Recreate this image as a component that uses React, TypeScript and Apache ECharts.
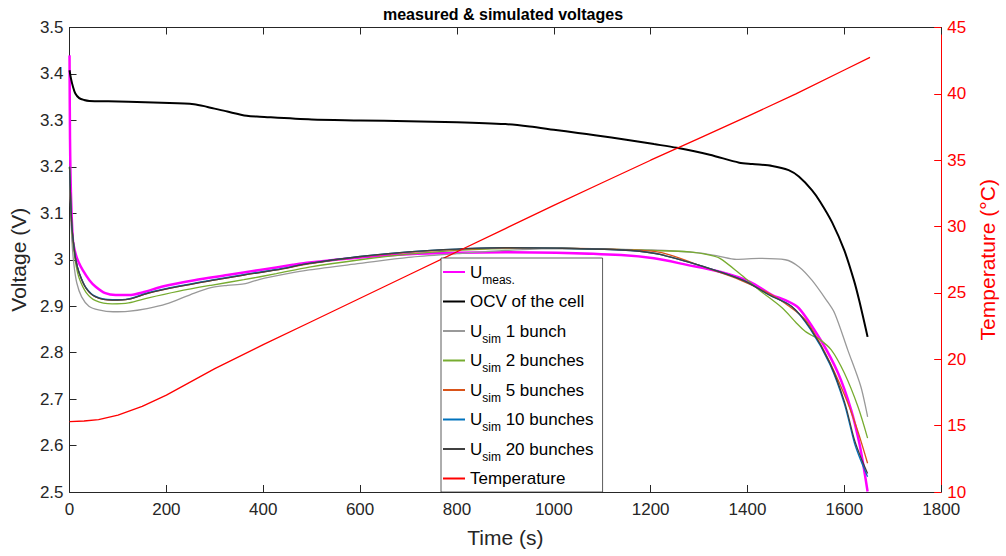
import React, { useEffect, useRef } from 'react';
import * as echarts from 'echarts';

const FONT = '"Liberation Sans", Arial, Helvetica, sans-serif';

// Axis ticks
const timeTicks = { min: 0, max: 1800, interval: 200 };
const voltTicks = { min: 2.5, max: 3.5, interval: 0.1 };
const tempTicks = { min: 10, max: 45, interval: 5 };

// U_meas.
const measT = [0, 1, 3, 7, 12, 17, 27, 41, 54, 74, 95, 122, 156, 190, 258, 326, 393, 461, 495, 600, 700, 800, 900, 1005, 1139, 1207, 1275, 1343, 1404, 1451, 1478, 1506, 1553, 1587, 1614, 1631, 1641, 1648];
const measV = [3.44, 3.26, 3.14, 3.042, 3.015, 2.999, 2.978, 2.956, 2.942, 2.928, 2.924, 2.924, 2.931, 2.942, 2.956, 2.967, 2.978, 2.989, 2.994, 3.005, 3.012, 3.015, 3.016, 3.015, 3.010, 3.003, 2.989, 2.974, 2.953, 2.924, 2.913, 2.896, 2.824, 2.756, 2.677, 2.605, 2.547, 2.501];

// OCV of the cell
const ocvT = [0, 3, 7, 12, 20, 30, 41, 80, 122, 190, 257, 285, 326, 366, 393, 500, 600, 700, 800, 900, 950, 1000, 1050, 1085, 1153, 1207, 1254, 1322, 1383, 1410, 1451, 1485, 1506, 1533, 1550, 1575, 1600, 1620, 1631, 1648];
const ocvV = [3.408, 3.39, 3.373, 3.358, 3.348, 3.344, 3.342, 3.341, 3.340, 3.338, 3.335, 3.329, 3.319, 3.310, 3.308, 3.302, 3.300, 3.298, 3.296, 3.292, 3.287, 3.280, 3.273, 3.268, 3.258, 3.249, 3.241, 3.226, 3.209, 3.206, 3.202, 3.193, 3.179, 3.150, 3.125, 3.08, 3.02, 2.955, 2.911, 2.834];

// U_sim 1 bunch
const sim1T = [0, 2, 5, 9, 15, 25, 40, 60, 90, 120, 160, 200, 250, 292, 326, 360, 393, 450, 495, 600, 700, 800, 900, 1000, 1100, 1200, 1300, 1340, 1377, 1424, 1478, 1506, 1533, 1563, 1580, 1607, 1634, 1648];
const sim1V = [3.2, 3.12, 3.04, 2.99, 2.95, 2.92, 2.90, 2.892, 2.888, 2.889, 2.895, 2.905, 2.925, 2.940, 2.945, 2.948, 2.958, 2.970, 2.978, 2.992, 3.005, 3.013, 3.020, 3.024, 3.023, 3.021, 3.015, 3.008, 3.001, 3.003, 3.000, 2.985, 2.956, 2.913, 2.885, 2.806, 2.727, 2.662];

// U_sim 2 bunches
const sim2T = [0, 2, 5, 9, 13, 20, 34, 54, 88, 122, 163, 224, 292, 360, 427, 495, 600, 700, 800, 900, 1000, 1100, 1200, 1280, 1322, 1343, 1383, 1424, 1472, 1500, 1519, 1535, 1546, 1573, 1600, 1628, 1648];
const sim2V = [3.2, 3.13, 3.06, 3.02, 2.99, 2.96, 2.93, 2.912, 2.905, 2.907, 2.918, 2.932, 2.945, 2.957, 2.970, 2.984, 3.000, 3.012, 3.020, 3.024, 3.025, 3.023, 3.020, 3.017, 3.010, 3.003, 2.971, 2.935, 2.896, 2.865, 2.846, 2.836, 2.831, 2.806, 2.756, 2.684, 2.616];

// U_sim 5 bunches
const sim5T = [0, 2, 5, 9, 13, 20, 34, 54, 88, 122, 163, 224, 292, 360, 427, 495, 600, 700, 800, 900, 1005, 1139, 1207, 1241, 1309, 1377, 1445, 1478, 1520, 1560, 1600, 1625, 1648];
const sim5V = [3.2, 3.14, 3.07, 3.03, 2.999, 2.971, 2.939, 2.920, 2.913, 2.915, 2.928, 2.942, 2.955, 2.967, 2.978, 2.991, 3.006, 3.016, 3.022, 3.025, 3.025, 3.022, 3.018, 3.010, 2.985, 2.960, 2.927, 2.906, 2.870, 2.800, 2.710, 2.640, 2.562];

// U_sim 10 bunches
const sim10T = [0, 2, 5, 9, 13, 20, 34, 54, 88, 122, 163, 224, 292, 360, 427, 495, 600, 700, 800, 900, 1005, 1139, 1207, 1275, 1343, 1397, 1445, 1492, 1530, 1570, 1600, 1621, 1635, 1648];
const sim10V = [3.2, 3.14, 3.07, 3.03, 3.0, 2.972, 2.94, 2.921, 2.914, 2.916, 2.929, 2.943, 2.956, 2.968, 2.979, 2.992, 3.007, 3.017, 3.023, 3.026, 3.025, 3.021, 3.014, 2.996, 2.974, 2.953, 2.924, 2.899, 2.850, 2.775, 2.690, 2.605, 2.565, 2.533];

// U_sim 20 bunches
const sim20T = [0, 2, 5, 9, 13, 20, 34, 54, 88, 122, 163, 224, 292, 360, 427, 495, 600, 700, 800, 900, 1005, 1139, 1207, 1275, 1343, 1397, 1445, 1492, 1530, 1570, 1600, 1621, 1635, 1648];
const sim20V = [3.2, 3.14, 3.07, 3.03, 2.999, 2.971, 2.939, 2.920, 2.913, 2.915, 2.928, 2.942, 2.955, 2.967, 2.978, 2.992, 3.007, 3.017, 3.023, 3.026, 3.025, 3.021, 3.014, 2.996, 2.974, 2.953, 2.924, 2.899, 2.852, 2.778, 2.695, 2.612, 2.572, 2.540];

// Temperature (°C)
const tempT = [0, 30, 60, 100, 150, 200, 250, 300, 400, 500, 600, 700, 800, 900, 1000, 1100, 1200, 1300, 1400, 1500, 1600, 1653];
const tempV = [15.3, 15.35, 15.45, 15.8, 16.45, 17.3, 18.3, 19.3, 21.1, 22.85, 24.6, 26.35, 28.1, 29.85, 31.6, 33.3, 35.0, 36.65, 38.3, 40.0, 41.8, 42.75];

const seriesNames = [
  'U_meas.',
  'OCV of the cell',
  'U_sim 1 bunch',
  'U_sim 2 bunches',
  'U_sim 5 bunches',
  'U_sim 10 bunches',
  'U_sim 20 bunches',
  'Temperature',
];

const legendLabels: Record<string, string> = {
  'U_meas.': '{u|U}{s|meas.}',
  'OCV of the cell': '{p|OCV of the cell}{s| }',
  'U_sim 1 bunch': '{u|U}{s|sim}{u| 1 bunch}',
  'U_sim 2 bunches': '{u|U}{s|sim}{u| 2 bunches}',
  'U_sim 5 bunches': '{u|U}{s|sim}{u| 5 bunches}',
  'U_sim 10 bunches': '{u|U}{s|sim}{u| 10 bunches}',
  'U_sim 20 bunches': '{u|U}{s|sim}{u| 20 bunches}',
  'Temperature': '{p|Temperature}{s| }',
};

const zip = (t: number[], v: number[]) => t.map((x, i) => [x, v[i]]);

function lineSeries(name: string, t: number[], v: number[], color: string, width: number, yAxisIndex = 0, smooth: number | boolean = 0.3) {
  return {
    name,
    type: 'line',
    xAxisIndex: 0,
    yAxisIndex,
    data: zip(t, v),
    showSymbol: false,
    symbol: 'none',
    smooth,
    color,
    itemStyle: { color },
    lineStyle: { color, width },
    emphasis: { disabled: true },
  };
}

const AXIS_COLOR = '#262626';

export default function App() {
  const ref = useRef<HTMLDivElement>(null);
  useEffect(() => {
    const chart = echarts.init(ref.current!, null, { renderer: 'svg' });
    const option = {
      animation: false,
      backgroundColor: '#ffffff',
      title: {
        text: 'measured & simulated voltages',
        left: 'center',
        top: 1,
        textStyle: { fontFamily: FONT, fontSize: 16, fontWeight: 'bold', color: '#000' },
      },
      grid: { left: 66.7, right: 54.6, top: 27.5, bottom: 64, containLabel: false },
      legend: {
        orient: 'vertical',
        left: 441,
        top: 258,
        itemWidth: 22,
        itemHeight: 2,
        itemGap: 2.5,
        padding: [0.5, 9, 0, 2],
        backgroundColor: '#ffffff',
        borderColor: '#333333',
        borderWidth: 0.8,
        borderRadius: 0,
        icon: 'rect',
        selectedMode: false,
        data: seriesNames,
        formatter: (name: string) => legendLabels[name],
        textStyle: {
          fontFamily: FONT,
          fontSize: 17,
          color: '#000',
          rich: {
            u: { fontFamily: FONT, fontSize: 17, lineHeight: 29.5, color: '#000' },
            p: { fontFamily: FONT, fontSize: 17, lineHeight: 29.5, color: '#000' },
            s: { fontFamily: FONT, fontSize: 12, lineHeight: 12, padding: [15, 0, 0, 0], color: '#000' },
          },
        },
      },
      xAxis: [
        {
          type: 'value',
          position: 'bottom',
          ...timeTicks,
          name: 'Time (s)',
          nameLocation: 'middle',
          nameGap: 35,
          nameTextStyle: { fontFamily: FONT, fontSize: 21, color: AXIS_COLOR },
          axisLine: { show: true, onZero: false, lineStyle: { color: AXIS_COLOR, width: 1 } },
          axisTick: { show: true, inside: true, length: 7, lineStyle: { color: AXIS_COLOR } },
          axisLabel: { fontFamily: FONT, fontSize: 17, color: AXIS_COLOR, margin: 9, formatter: (v: number) => String(v) },
          splitLine: { show: false },
        },
        {
          type: 'value',
          position: 'top',
          ...timeTicks,
          axisLine: { show: true, onZero: false, lineStyle: { color: AXIS_COLOR, width: 1 } },
          axisTick: { show: true, inside: true, length: 7, lineStyle: { color: AXIS_COLOR } },
          axisLabel: { show: false },
          splitLine: { show: false },
        },
      ],
      yAxis: [
        {
          type: 'value',
          position: 'left',
          ...voltTicks,
          name: 'Voltage (V)',
          nameLocation: 'middle',
          nameRotate: 90,
          nameGap: 38,
          nameTextStyle: { fontFamily: FONT, fontSize: 21, color: AXIS_COLOR },
          axisLine: { show: true, onZero: false, lineStyle: { color: AXIS_COLOR, width: 1 } },
          axisTick: { show: true, inside: true, length: 7, lineStyle: { color: AXIS_COLOR } },
          axisLabel: { fontFamily: FONT, fontSize: 17, color: AXIS_COLOR, margin: 6 },
          splitLine: { show: false },
        },
        {
          type: 'value',
          position: 'right',
          ...tempTicks,
          name: 'Temperature (°C)',
          nameLocation: 'middle',
          nameRotate: 90,
          nameGap: 30,
          nameTextStyle: { fontFamily: FONT, fontSize: 21, color: '#ff0000' },
          axisLine: { show: true, onZero: false, lineStyle: { color: '#ff0000', width: 1 } },
          axisTick: { show: true, inside: true, length: 7, lineStyle: { color: '#ff0000' } },
          axisLabel: { fontFamily: FONT, fontSize: 17, color: '#ff0000', margin: 6 },
          splitLine: { show: false },
        },
      ],
      series: [
        lineSeries('U_meas.', measT, measV, '#ff00ff', 2.5),
        lineSeries('OCV of the cell', ocvT, ocvV, '#000000', 2),
        lineSeries('U_sim 1 bunch', sim1T, sim1V, '#999999', 1.3),
        lineSeries('U_sim 2 bunches', sim2T, sim2V, '#77ac30', 1.3),
        lineSeries('U_sim 5 bunches', sim5T, sim5V, '#d95319', 1.3),
        lineSeries('U_sim 10 bunches', sim10T, sim10V, '#0072bd', 1.3),
        lineSeries('U_sim 20 bunches', sim20T, sim20V, '#404040', 1.3),
        lineSeries('Temperature', tempT, tempV, '#ff0000', 1.3, 1, false),
      ],
    };
    chart.setOption(option as any);
    return () => chart.dispose();
  }, []);
  return (
    <div
      ref={ref}
      style={{ position: 'fixed', left: 0, top: 0, width: 1006, height: 556 }}
    />
  );
}
